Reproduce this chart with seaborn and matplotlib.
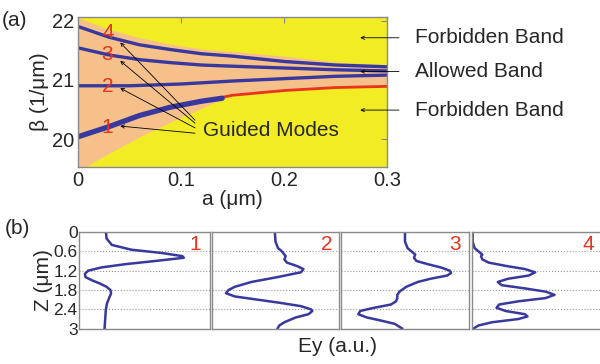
import numpy as np
import pandas as pd
import matplotlib
matplotlib.use('Agg')
import matplotlib.pyplot as plt
import seaborn as sns

# ---- data ----
# (a) propagation constant vs a
a_m1 = [0, 0.03, 0.06, 0.09, 0.12, 0.14]
b_m1 = [20.04, 20.21, 20.40, 20.54, 20.64, 20.69]
a_m2 = [0, 0.05, 0.10, 0.15, 0.20, 0.25, 0.30]
b_m2 = [20.90, 20.90, 20.93, 20.98, 21.02, 21.06, 21.08]
a_m3 = [0, 0.03, 0.06, 0.09, 0.12, 0.15, 0.20, 0.25, 0.30]
b_m3 = [21.54, 21.42, 21.34, 21.29, 21.25, 21.23, 21.20, 21.17, 21.15]
a_m4 = [0, 0.03, 0.06, 0.09, 0.12, 0.15, 0.20, 0.25, 0.30]
b_m4 = [21.90, 21.72, 21.59, 21.51, 21.44, 21.40, 21.31, 21.25, 21.22]
a_edge = [0.13, 0.15, 0.20, 0.25, 0.30]
b_edge = [20.67, 20.74, 20.82, 20.87, 20.89]

a_band = [0, 0.007, 0.03, 0.06, 0.09, 0.12, 0.14, 0.15, 0.20, 0.25, 0.30]
band_hi = [22.05, 22.00, 21.85, 21.71, 21.60, 21.52, 21.49, 21.48, 21.40, 21.30, 21.25]
band_lo = [19.45, 19.53, 19.76, 20.04, 20.29, 20.52, 20.68, 20.74, 20.82, 20.87, 20.89]

# (b) field profiles Ey(z), Ey normalised to panel width
z1 = [0, 0.2, 0.4, 0.55, 0.65, 0.75, 0.8, 0.9, 1.0, 1.1, 1.2, 1.3, 1.4, 1.5, 1.6, 1.7, 1.8, 1.9, 2.0, 2.2, 2.4, 2.7, 3.0]
e1 = [0.206, 0.21, 0.25, 0.40, 0.63, 0.79, 0.80, 0.58, 0.35, 0.17, 0.07, 0.045, 0.05, 0.10, 0.16, 0.21, 0.24, 0.245, 0.235, 0.215, 0.205, 0.20, 0.195]
z2 = [0, 0.3, 0.5, 0.6, 0.75, 0.85, 0.95, 1.05, 1.15, 1.25, 1.4, 1.55, 1.7, 1.8, 1.9, 2.0, 2.1, 2.2, 2.3, 2.4, 2.45, 2.55, 2.65, 2.8, 2.9, 3.0]
e2 = [0.495, 0.50, 0.52, 0.55, 0.58, 0.57, 0.59, 0.665, 0.72, 0.70, 0.515, 0.31, 0.18, 0.13, 0.11, 0.18, 0.36, 0.54, 0.70, 0.78, 0.79, 0.76, 0.66, 0.57, 0.53, 0.515]
z3 = [0, 0.3, 0.5, 0.6, 0.7, 0.8, 0.9, 1.0, 1.1, 1.2, 1.27, 1.35, 1.45, 1.55, 1.7, 1.85, 1.95, 2.05, 2.15, 2.25, 2.35, 2.45, 2.55, 2.65, 2.75, 2.85, 3.0]
e3 = [0.50, 0.50, 0.52, 0.55, 0.58, 0.57, 0.59, 0.68, 0.78, 0.85, 0.86, 0.83, 0.70, 0.60, 0.51, 0.457, 0.44, 0.44, 0.43, 0.39, 0.26, 0.15, 0.135, 0.20, 0.315, 0.42, 0.48]
z4 = [0, 0.3, 0.5, 0.6, 0.7, 0.75, 0.85, 0.95, 1.05, 1.15, 1.25, 1.35, 1.45, 1.55, 1.65, 1.75, 1.85, 1.95, 2.05, 2.15, 2.25, 2.35, 2.45, 2.55, 2.62, 2.7, 2.8, 2.9, 3.0]
e4 = [0.005, 0.005, 0.02, 0.05, 0.08, 0.07, 0.08, 0.13, 0.26, 0.41, 0.49, 0.44, 0.28, 0.20, 0.23, 0.41, 0.57, 0.64, 0.57, 0.36, 0.21, 0.19, 0.26, 0.41, 0.43, 0.36, 0.155, 0.05, 0.01]

z_ticks = [0, 0.6, 1.2, 1.8, 2.4, 3]
z_ticklabels = ['0', '0.6', '1.2', '1.8', '2.4', '3']

sns.set_style('white')
plt.rcParams['font.family'] = ['Liberation Sans', 'DejaVu Sans']

yellow = '#f2ec24'
peach = '#f6c08a'
blue = '#38389e'
red = '#e8341c'
spine_gray = '#8a8a8a'

fig = plt.figure(figsize=(6, 3.64), dpi=100)

# ---------------- panel (a) ----------------
ax = fig.add_axes([78 / 600, 1 - 167 / 364, 309 / 600, 150 / 364])
ax.set_facecolor(yellow)
ax.fill_between(a_band, band_lo, band_hi, color=peach, lw=0)
sns.lineplot(x=a_edge, y=b_edge, ax=ax, color=red, lw=2, estimator=None)
sns.lineplot(x=a_m1, y=b_m1, ax=ax, color=blue, lw=3.8, estimator=None,
             solid_capstyle='round')
for aa, bb in [(a_m2, b_m2), (a_m3, b_m3), (a_m4, b_m4)]:
    sns.lineplot(x=aa, y=bb, ax=ax, color=blue, lw=2.4, estimator=None)

ax.set_xlim(0, 0.3)
ax.set_ylim(19.53, 22.06)
ax.set_xticks([0, 0.1, 0.2, 0.3])
ax.set_xticklabels(['0', '0.1', '0.2', '0.3'])
ax.set_yticks([20, 21, 22])
ax.tick_params(direction='in', top=True, right=True, length=4, color=spine_gray,
               labelsize=14.5, pad=3)
for s in ax.spines.values():
    s.set_color(spine_gray)
    s.set_linewidth(1)
ax.set_xlabel('a (μm)', fontsize=15, labelpad=0)
ax.set_ylabel('β (1/μm)', fontsize=15, labelpad=2)

# mode numbers and Guided Modes arrows
num_pos = [(0.028, 20.19), (0.029, 20.88), (0.028, 21.42), (0.029, 21.80)]
heads = [(0.041, 20.22), (0.041, 20.86), (0.041, 21.32), (0.041, 21.63)]
tails = [(0.1136, 20.10), (0.1136, 20.19), (0.1136, 20.27), (0.1136, 20.32)]
for i in range(4):
    ax.text(num_pos[i][0], num_pos[i][1], str(i + 1), color=red, fontsize=15,
            ha='center', va='center')
    ax.annotate('', xy=heads[i], xytext=tails[i],
                arrowprops=dict(arrowstyle='->', color='black', lw=0.6,
                                shrinkA=0, shrinkB=0, mutation_scale=6))
ax.text(0.121, 20.15, 'Guided Modes', fontsize=15, ha='left', va='center')

# band labels on the right
for label, yv in [('Forbidden Band', 21.71), ('Allowed Band', 21.14), ('Forbidden Band', 20.49)]:
    ax.annotate(label, xy=(0.274, yv), xytext=(0.327, yv), fontsize=15,
                ha='left', va='center', annotation_clip=False,
                arrowprops=dict(arrowstyle='->', color='black', lw=0.6,
                                shrinkA=9, shrinkB=0, mutation_scale=6))

fig.text(2 / 600, 1 - 20 / 364, '(a)', fontsize=15, ha='left', va='center')

# ---------------- panel (b) ----------------
lefts = [79, 212, 341, 472]
widths = [131, 127, 128, 129]
profiles = [(e1, z1), (e2, z2), (e3, z3), (e4, z4)]
num_x = [195, 327, 455, 588]
for i in range(4):
    axb = fig.add_axes([lefts[i] / 600, 1 - 328.7 / 364, widths[i] / 600, 96.7 / 364])
    df = pd.DataFrame({'Ey': profiles[i][0], 'z': profiles[i][1]})
    sns.lineplot(data=df, x='Ey', y='z', ax=axb, color=blue, lw=1.8,
                 sort=False, estimator=None)
    axb.set_xlim(0, 1)
    axb.set_ylim(3, 0)
    axb.set_xticks([])
    axb.set_yticks(z_ticks)
    axb.yaxis.grid(True, linestyle=':', color='#999999', lw=0.8)
    axb.set_xlabel('')
    axb.set_ylabel('')
    axb.tick_params(length=0, labelsize=12.5, pad=1)
    for s in axb.spines.values():
        s.set_color(spine_gray)
        s.set_linewidth(1)
    if i == 0:
        axb.set_yticklabels(z_ticklabels)
        axb.set_ylabel('Z (μm)', fontsize=15, labelpad=0)
    else:
        axb.set_yticklabels([])
    if i == 3:
        axb.spines['right'].set_visible(False)
    fig.text(num_x[i] / 600, 1 - 244 / 364, str(i + 1), color=red, fontsize=15,
             ha='center', va='center')

fig.text(5 / 600, 1 - 228 / 364, '(b)', fontsize=15, ha='left', va='center')
fig.text(337 / 600, 1 - 347 / 364, 'Ey (a.u.)', fontsize=15, ha='center', va='center')

fig.savefig('out.png', dpi=100)
